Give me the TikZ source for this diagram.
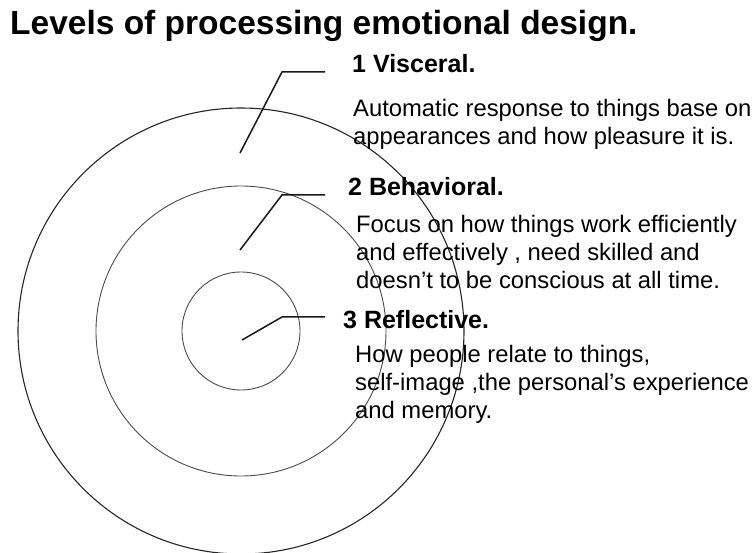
\documentclass[tikz,border=0pt]{standalone}
\usepackage{fontspec}
\setmainfont{Liberation Sans}
\begin{document}
\begin{tikzpicture}[x=1pt,y=-1pt,
  ring/.style={draw=black!70,line width=0.9pt,circle,inner sep=0pt},
  outerring/.style={draw=black!85,line width=1.1pt,circle,inner sep=0pt},
  leader/.style={draw=black!90,line width=1.5pt,line join=miter},
  titletext/.style={anchor=base west,inner sep=0pt,font=\fontsize{33.5}{38}\selectfont\bfseries},
  headtext/.style={anchor=base west,inner sep=0pt,font=\fontsize{25}{28}\selectfont\bfseries},
  bodytext/.style={anchor=base west,inner sep=0pt,align=left,font=\fontsize{23.8}{28}\selectfont}]
\useasboundingbox (0,0) rectangle (755,553);
% rings
\node[outerring,minimum size=446pt] (c1) at (241,331) {};
\node[ring,minimum size=290pt] (c2) at (241,331) {};
\node[ring,minimum size=118pt] (c3) at (241,331) {};
% title
\node[titletext] (title) at (10,35) {Levels of processing emotional design.};
% labels (body blocks are anchored at the baseline of their last line)
\node[headtext] (h1) at (352,73) {1 Visceral.};
\node[bodytext] (b1) at (353,145) {Automatic response to things base on\\appearances and how pleasure it is.};
\node[headtext] (h2) at (348,196) {2 Behavioral.};
\node[bodytext] (b2) at (356,289) {Focus on how things work efficiently\\and effectively , need skilled and\\doesn’t to be conscious at all time.};
\node[headtext] (h3) at (343,328) {3 Reflective.};
\node[bodytext] (b3) at (355,418) {How people relate to things,\\self-image ,the personal’s experience\\and memory.};
% leader lines
\coordinate (p1) at (240,153); \coordinate (k1) at (282,72); \coordinate (e1) at (325,72);
\coordinate (p2) at (240,250); \coordinate (k2) at (282,195); \coordinate (e2) at (325,195);
\coordinate (p3) at (242,340); \coordinate (k3) at (282,317); \coordinate (e3) at (325,317);
\draw[leader] (p1) -- (k1) -- (e1);
\draw[leader] (p2) -- (k2) -- (e2);
\draw[leader] (p3) -- (k3) -- (e3);
\end{tikzpicture}
\end{document}
